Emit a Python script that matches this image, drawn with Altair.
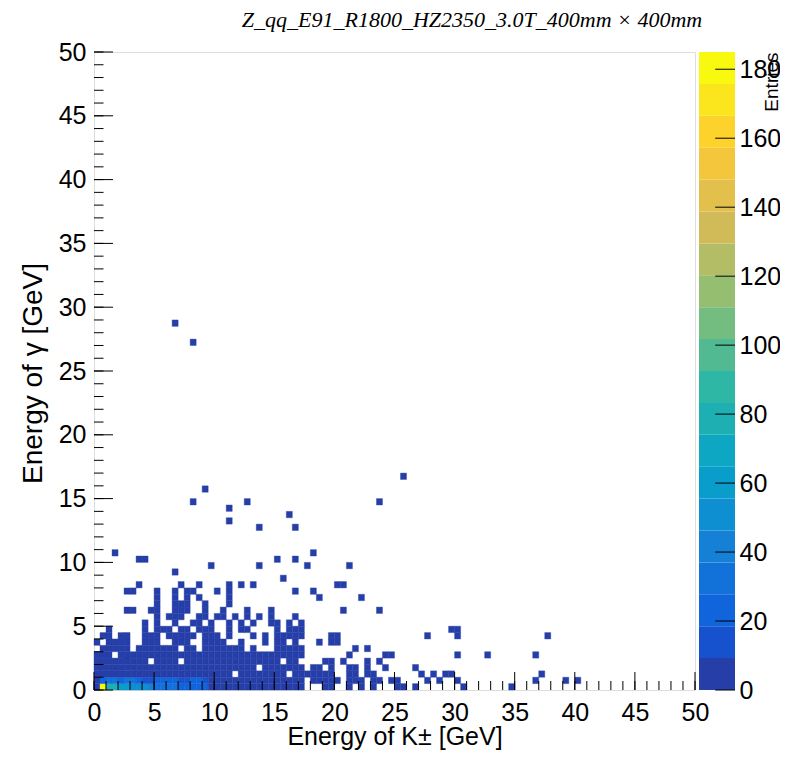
import altair as alt
import pandas as pd
import numpy as np

# ---------------- data ----------------
BIN = 0.5  # GeV per bin on both axes
# entries of the two lowest gamma-energy rows for K bins 0..20
ROW0_COUNTS = [4, 185, 78, 80, 62, 60, 50, 48, 47, 45, 33, 30, 35, 30, 27, 25, 22, 24, 20, 8, 6]
ROW1_COUNTS = [5, 25, 28, 30, 26, 32, 30, 24, 14, 15, 22, 25, 22, 20, 12, 12, 20, 22, 18, 8, 7]
LOW_COUNT = 3  # remaining cells are all in the lowest colour band
# occupied K-bin runs (first, last) for each gamma bin
LOW_RUNS = {
    0: [(21, 34), (38, 39), (42, 42), (44, 44), (46, 46), (50, 51), (53, 53), (61, 61), (69, 69)],
    1: [(21, 34), (36, 40), (42, 44), (46, 47), (49, 50), (55, 55), (57, 57), (60, 60), (73, 73), (78, 78), (80, 80)],
    2: [(0, 22), (24, 31), (33, 39), (42, 43), (45, 46), (54, 54), (56, 56), (58, 59), (74, 74)],
    3: [(0, 26), (28, 34), (36, 37), (39, 39), (42, 43), (45, 45), (48, 48), (53, 53)],
    4: [(0, 8), (10, 13), (15, 30), (32, 33), (38, 39), (41, 41), (45, 45), (47, 47)],
    5: [(0, 2), (4, 34), (42, 42), (48, 49), (60, 60), (65, 65), (73, 73)],
    6: [(1, 5), (7, 13), (15, 16), (18, 24), (26, 26), (30, 34), (43, 43), (45, 45)],
    7: [(0, 0), (2, 5), (8, 10), (13, 15), (18, 21), (24, 24), (28, 28), (30, 31), (33, 33), (37, 37), (39, 40)],
    8: [(1, 2), (4, 5), (8, 10), (12, 16), (18, 20), (22, 22), (26, 26), (28, 28), (30, 34), (39, 40), (55, 55), (60, 60), (75, 75)],
    9: [(2, 2), (8, 8), (10, 12), (14, 15), (17, 19), (22, 22), (24, 25), (30, 30), (32, 34), (59, 60)],
    10: [(8, 8), (10, 10), (13, 13), (16, 17), (19, 19), (22, 22), (24, 24), (26, 26), (29, 30), (32, 32), (34, 34)],
    11: [(10, 10), (12, 14), (17, 18), (20, 21), (23, 23), (25, 25), (27, 27), (29, 29), (33, 33)],
    12: [(5, 6), (9, 10), (13, 15), (18, 18), (21, 21), (25, 25), (29, 29), (41, 41), (47, 47)],
    13: [(10, 10), (13, 15), (18, 18), (22, 22)],
    14: [(10, 10), (13, 13), (15, 15), (17, 17), (22, 22), (37, 37), (44, 44)],
    15: [(5, 6), (10, 10), (13, 13), (15, 16), (20, 20), (22, 22), (33, 33), (36, 36)],
    16: [(7, 7), (14, 14), (17, 17), (22, 22), (24, 24), (26, 26), (40, 41)],
    17: [(31, 31)],
    18: [(13, 13)],
    19: [(19, 19), (27, 27), (35, 35), (42, 42)],
    20: [(7, 8), (30, 30), (33, 33)],
    21: [(3, 3), (36, 36)],
    25: [(27, 27), (33, 33)],
    26: [(22, 22)],
    27: [(32, 32)],
    28: [(22, 22)],
    29: [(16, 16), (25, 25), (47, 47)],
    31: [(18, 18)],
    33: [(51, 51)],
    54: [(16, 16)],
    57: [(13, 13)],
}

AXIS_TICKS = [0, 5, 10, 15, 20, 25, 30, 35, 40, 45, 50]
AXIS_MINOR = list(range(0, 51))
CB_TICKS = [0, 20, 40, 60, 80, 100, 120, 140, 160, 180]

TITLE = "Z_qq_E91_R1800_HZ2350_3.0T_400mm \u00d7 400mm"
X_TITLE = "Energy of K\u00b1 [GeV]"
Y_TITLE = "Energy of \u03b3 [GeV]"

# ---------------- build cell table ----------------
rows = []
for i, n in enumerate(ROW0_COUNTS):
    if n > 0:
        rows.append((i, 0, n))
for i, n in enumerate(ROW1_COUNTS):
    if n > 0:
        rows.append((i, 1, n))
for j, runs in LOW_RUNS.items():
    for a, b in runs:
        for i in range(a, b + 1):
            rows.append((i, j, LOW_COUNT))
cells = pd.DataFrame(rows, columns=["i", "j", "n"])
cells["x0"] = cells["i"] * BIN
cells["x1"] = cells["x0"] + BIN
cells["y0"] = cells["j"] * BIN
cells["y1"] = cells["y0"] + BIN
ZMAX = float(cells["n"].max())

# ---------------- ROOT kBird palette, 20 contour bands ----------------
stops = [0.0, 0.125, 0.25, 0.375, 0.5, 0.625, 0.75, 0.875, 1.0]
red = [0.2082, 0.0592, 0.0780, 0.0232, 0.1802, 0.5301, 0.8186, 0.9956, 0.9764]
green = [0.1664, 0.3599, 0.5041, 0.6419, 0.7178, 0.7492, 0.7328, 0.7862, 0.9832]
blue = [0.5293, 0.8684, 0.8385, 0.7914, 0.6425, 0.4662, 0.3499, 0.1968, 0.0539]
pal = []
NCOL = 255
for g in range(1, len(stops)):
    nc = int(np.floor(NCOL * stops[g]) - np.floor(NCOL * stops[g - 1]))
    for c in range(nc):
        f = c / nc
        r = red[g - 1] + (red[g] - red[g - 1]) * f
        gg = green[g - 1] + (green[g] - green[g - 1]) * f
        bb = blue[g - 1] + (blue[g] - blue[g - 1]) * f
        pal.append("#%02x%02x%02x" % (round(r * 255), round(gg * 255), round(bb * 255)))
NDIV = 20
band_colors = [pal[min(int((k + 0.99) * len(pal) / NDIV), len(pal) - 1)] for k in range(NDIV)]

cb = pd.DataFrame({
    "lo": [k * ZMAX / NDIV for k in range(NDIV)],
    "hi": [(k + 1) * ZMAX / NDIV for k in range(NDIV)],
    "color": band_colors,
})

# ---------------- layout constants ----------------
W, H = 601, 638
FONT = "Liberation Sans"
X_MAJ, X_MIN_LEN = 18, 9
Y_MAJ, Y_MIN_LEN = 19, 9.5

xscale = alt.Scale(domain=[0, 50], nice=False, zero=False)
yscale = alt.Scale(domain=[0, 50], nice=False, zero=False)
cscale = alt.Scale(type="quantize", domain=[0, ZMAX], range=band_colors)

x_axis = alt.Axis(values=AXIS_TICKS, format="d", ticks=False, tickSize=0, domain=False, grid=False,
                  labelFont=FONT, labelFontSize=25, labelColor="black", labelPadding=10,
                  labelFlush=False, labelOverlap=False, labelBound=False,
                  title=X_TITLE, titleFont=FONT, titleFontSize=25, titleFontWeight="normal",
                  titleColor="black", titleX=W / 2, titleY=54, titleAlign="center",
                  titleBaseline="alphabetic")
y_axis = alt.Axis(values=AXIS_TICKS, format="d", ticks=False, tickSize=0, domain=False, grid=False,
                  labelFont=FONT, labelFontSize=25, labelColor="black", labelPadding=8,
                  labelFlush=False, labelOverlap=False, labelBound=False,
                  title=Y_TITLE, titleFont=FONT, titleFontSize=28, titleFontWeight="normal",
                  titleColor="black", titleAngle=270, titleX=-53, titleY=H / 2 + 2,
                  titleAlign="center", titleBaseline="alphabetic")

heat = alt.Chart(cells).mark_rect(strokeWidth=0.4).encode(
    x=alt.X("x0:Q", scale=xscale, axis=x_axis),
    x2="x1:Q",
    y=alt.Y("y0:Q", scale=yscale, axis=y_axis),
    y2="y1:Q",
    color=alt.Color("n:Q", scale=cscale, legend=None),
    stroke=alt.Stroke("n:Q", scale=cscale, legend=None),
)

xt_major = alt.Chart(pd.DataFrame({"v": AXIS_TICKS})).mark_rule(color="black", strokeWidth=1).encode(
    x=alt.X("v:Q", scale=xscale, axis=x_axis), y=alt.value(H), y2=alt.value(H - X_MAJ))
xt_minor = alt.Chart(pd.DataFrame({"v": AXIS_MINOR})).mark_rule(color="black", strokeWidth=1).encode(
    x=alt.X("v:Q", scale=xscale, axis=x_axis), y=alt.value(H), y2=alt.value(H - X_MIN_LEN))
yt_major = alt.Chart(pd.DataFrame({"v": AXIS_TICKS})).mark_rule(color="black", strokeWidth=1).encode(
    y=alt.Y("v:Q", scale=yscale, axis=y_axis), x=alt.value(0), x2=alt.value(Y_MAJ))
yt_minor = alt.Chart(pd.DataFrame({"v": AXIS_MINOR})).mark_rule(color="black", strokeWidth=1).encode(
    y=alt.Y("v:Q", scale=yscale, axis=y_axis), x=alt.value(0), x2=alt.value(Y_MIN_LEN))

title_mark = alt.Chart(pd.DataFrame({"t": [TITLE]})).mark_text(
    font="Liberation Serif", fontStyle="italic", fontSize=22, color="black",
    align="center", baseline="alphabetic").encode(
    text="t:N", x=alt.value(378), y=alt.value(-25))

main = alt.layer(heat, xt_major, xt_minor, yt_major, yt_minor, title_mark)

# ---------------- colour bar ----------------
cbx = alt.Scale(domain=[0, 1], range=[605, 641])
cby = alt.Scale(domain=[0, ZMAX], nice=False, zero=True)
cb_axis = alt.Axis(orient="right", offset=40, values=CB_TICKS, format="d", ticks=False, tickSize=0,
                   domain=False, grid=False, labelFont=FONT, labelFontSize=25, labelColor="black",
                   labelPadding=4, labelFlush=False, labelOverlap=False, labelBound=False,
                   title="Entries", titleFont=FONT, titleFontSize=19, titleFontWeight="normal",
                   titleColor="black", titleAngle=270, titleX=36, titleY=0,
                   titleAlign="right", titleBaseline="middle")

cb_rect = alt.Chart(cb).mark_rect().encode(
    x=alt.XDatum(0, scale=cbx, axis=None),
    x2=alt.X2Datum(1),
    y=alt.Y("lo:Q", scale=cby, axis=cb_axis),
    y2="hi:Q",
    color=alt.Color("color:N", scale=None),
)
cb_ticks = alt.Chart(pd.DataFrame({"v": CB_TICKS})).mark_rule(color="black", strokeWidth=1).encode(
    y=alt.Y("v:Q", scale=cby, axis=cb_axis),
    x=alt.XDatum(1, scale=cbx, axis=None),
    x2=alt.X2Datum(0.45),
)
colorbar = alt.layer(cb_rect, cb_ticks)

chart = alt.layer(main, colorbar).resolve_scale(
    x="independent", y="independent", color="independent"
).properties(
    width=W, height=H,
    autosize=alt.AutoSizeParams(type="none"),
    padding={"left": 86, "top": 44, "right": 85, "bottom": 60},
).configure_view(stroke="black", strokeWidth=1).configure(background="white")

chart.save("out.html", embed_options={"renderer": "svg", "actions": False})
